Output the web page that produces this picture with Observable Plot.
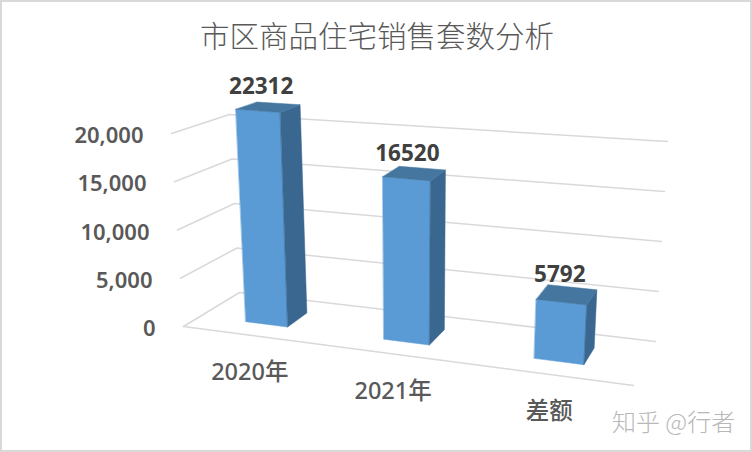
<!DOCTYPE html>
<html>
<head>
<meta charset="utf-8">
<script src="https://cdn.jsdelivr.net/npm/d3@7"></script>
<script src="https://cdn.jsdelivr.net/npm/@observablehq/plot@0.6"></script>
<style>
html,body{margin:0;padding:0;background:#fff}
#wrap{position:relative;width:752px;height:452px;overflow:hidden}
#wrap svg{position:absolute;left:0;top:0;background:transparent}
#frame{position:absolute;inset:0;box-sizing:border-box;border:2px solid #d9d9d9;pointer-events:none}
#title{position:absolute;left:0;width:752px;top:14px;text-align:center;font:29.5px/40px "Noto Sans CJK SC",sans-serif;font-weight:300;color:#595959;padding-left:2px;box-sizing:border-box}
#mark{position:absolute;left:612px;top:404px;font:24px/34px "Noto Sans CJK SC",sans-serif;font-weight:300;color:#b8b8b8;white-space:nowrap}
</style>
</head>
<body>
<div id="wrap">
<div id="title"></div>
<div id="mark"></div>
<div id="frame"></div>
</div>
<script>
const chartTitle = "市区商品住宅销售套数分析";
const watermark = "知乎 @行者";
const categories = ["2020年", "2021年", "差额"];
const values = [22312, 16520, 5792];
const yTicks = [0, 5000, 10000, 15000, 20000];
const yMax = 20000;

// Camera: the eight corners of the chart box as seen on screen (floor and 20,000 level)
const corners = {
  frontLeft:  [[183, 326], [171, 133]],
  backLeft:   [[239, 292], [229, 114]],
  backRight:  [[655, 341], [667, 141]],
  frontRight: [[633, 385], [646, 173]]
};
const perspective = 0.137, depthFront = 0.31, depthBack = 0.70, halfBar = 0.052;
const lerp = (a, b, t) => a + (b - a) * t;
// t: position along the category axis 0..1, d: depth 0..1, value: data value
function project(t, d, value) {
  const u = t / (1 + perspective * (1 - t));
  const v = value / yMax;
  return [0, 1].map((k) => {
    const at = (c) => lerp(c[0][k], c[1][k], v);
    const front = lerp(at(corners.frontLeft), at(corners.frontRight), u);
    const back = lerp(at(corners.backLeft), at(corners.backRight), u);
    return lerp(front, back, d);
  });
}
const pt = (t, d, value, key) => { const [x, y] = project(t, d, value); return {x, y, key}; };

const gridLines = yTicks.flatMap((v) => [
  pt(0, 0, v, v), pt(0, 1, v, v), pt(1, 1, v, v)
]);
const floorFront = [pt(0, 0, 0, "f"), pt(1, 0, 0, "f")];

const center = (i) => (i + 0.5) / categories.length;
const faces = {front: [], side: [], top: []};
values.forEach((v, i) => {
  const a = center(i) - halfBar, b = center(i) + halfBar;
  faces.front.push(pt(a, depthFront, 0, i), pt(b, depthFront, 0, i), pt(b, depthFront, v, i), pt(a, depthFront, v, i));
  faces.side.push(pt(b, depthFront, 0, i), pt(b, depthBack, 0, i), pt(b, depthBack, v, i), pt(b, depthFront, v, i));
  faces.top.push(pt(a, depthFront, v, i), pt(b, depthFront, v, i), pt(b, depthBack, v, i), pt(a, depthBack, v, i));
});

const valueLabels = values.map((v, i) => {
  const [x, y] = project(center(i), (depthFront + depthBack) / 2, v);
  return {x, y, text: String(v)};
});
const catLabels = categories.map((c, i) => {
  const [x, y] = project(center(i), 0, 0);
  return {x, y, text: c};
});
const tickLabels = yTicks.map((v) => {
  const [x, y] = project(0, 0, v);
  return {x, y, text: d3.format(",")(v)};
});

const font = '"Noto Sans","Noto Sans CJK SC",sans-serif';
const face = (data, fill) => Plot.line(data, {x: "x", y: "y", z: "key", fill, stroke: fill, strokeWidth: 0.5, curve: "linear-closed"});

const chart = Plot.plot({
  width: 752, height: 452,
  margin: 0,
  x: {type: "identity", axis: null},
  y: {type: "identity", axis: null},
  marks: [
    Plot.line(gridLines, {x: "x", y: "y", z: "key", stroke: "#d9d9d9", strokeWidth: 1.5}),
    Plot.line(floorFront, {x: "x", y: "y", z: "key", stroke: "#d9d9d9", strokeWidth: 1.5}),
    face(faces.front, "#5b9bd5"),
    face(faces.side, "#3a6790"),
    face(faces.top, "#44769f"),
    Plot.text(tickLabels, {x: "x", y: "y", text: "text", dx: -28, dy: 2.5, textAnchor: "end", fontFamily: font, fontSize: 22, fontWeight: 600, fill: "#595959"}),
    Plot.text(catLabels, {x: "x", y: "y", text: "text", dy: 37, dx: -1, fontFamily: font, fontSize: 23.5, fontWeight: 500, fill: "#595959"}),
    Plot.text(valueLabels, {x: "x", y: "y", text: "text", dx: -7, dy: -20, fontFamily: font, fontSize: 22.5, fontWeight: 700, fill: "#404040"})
  ]
});
document.getElementById("title").textContent = chartTitle;
document.getElementById("mark").textContent = watermark;
document.getElementById("wrap").prepend(chart);
</script>
</body>
</html>
